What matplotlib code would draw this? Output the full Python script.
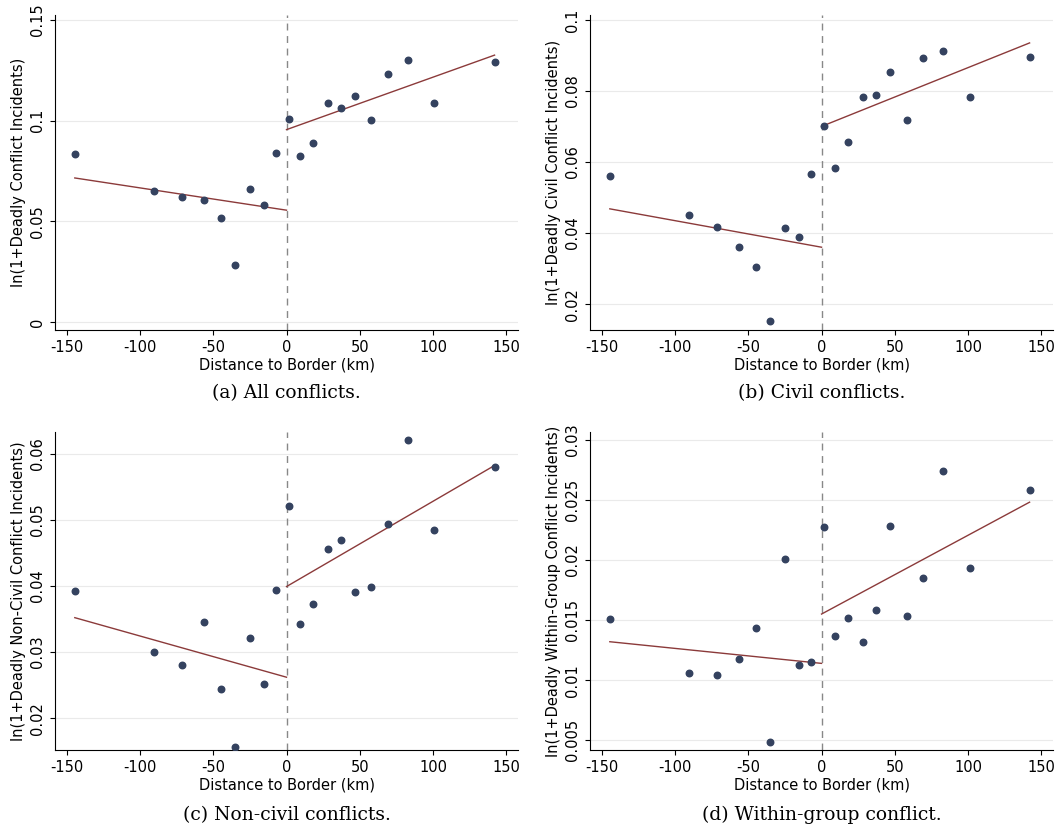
import matplotlib
matplotlib.use("Agg")
import matplotlib.pyplot as plt
from matplotlib.ticker import FuncFormatter

plt.rcParams['axes.unicode_minus'] = False

x = [-144.5, -90.7, -71.6, -56.6, -45, -35.4, -25.2, -15.7, -7.5, 1.4,
     9.5, 18.4, 28, 37.5, 47, 58, 69.5, 83, 101, 142]
y_all = [0.0835, 0.0650, 0.0621, 0.0606, 0.0516, 0.0283, 0.0661, 0.0582, 0.0840, 0.1008,
         0.0825, 0.0890, 0.1088, 0.1063, 0.1123, 0.1003, 0.1232, 0.1302, 0.1088, 0.1291]
y_civ = [0.0561, 0.0451, 0.0417, 0.0361, 0.0304, 0.0152, 0.0414, 0.0389, 0.0566, 0.0701,
         0.0583, 0.0656, 0.0783, 0.0789, 0.0854, 0.0718, 0.0893, 0.0913, 0.0783, 0.0896]
y_non = [0.0393, 0.0300, 0.0280, 0.0345, 0.0244, 0.0157, 0.0321, 0.0251, 0.0394, 0.0521,
         0.0343, 0.0373, 0.0456, 0.0469, 0.0391, 0.0398, 0.0494, 0.0620, 0.0484, 0.0580]
y_wg = [0.0151, 0.0106, 0.0104, 0.0118, 0.0143, 0.0049, 0.0201, 0.0113, 0.0115, 0.0227,
        0.0137, 0.0152, 0.0132, 0.0158, 0.0228, 0.0153, 0.0185, 0.0274, 0.0193, 0.0258]
# fit line endpoints: (left start, left end at 0, right start at 0, right end)
fit_all = [0.0715, 0.0555, 0.0955, 0.1325]
fit_civ = [0.0468, 0.0360, 0.0700, 0.0935]
fit_non = [0.0352, 0.0262, 0.0399, 0.0582]
fit_wg = [0.0132, 0.0114, 0.0155, 0.0248]

panels = [
    ("ln(1+Deadly Conflict Incidents)", y_all, fit_all, (-0.004, 0.1525), [0, 0.05, 0.1, 0.15], "(a) All conflicts."),
    ("ln(1+Deadly Civil Conflict Incidents)", y_civ, fit_civ, (0.0127, 0.1014), [0.02, 0.04, 0.06, 0.08, 0.1], "(b) Civil conflicts."),
    ("ln(1+Deadly Non-Civil Conflict Incidents)", y_non, fit_non, (0.0152, 0.0632), [0.02, 0.03, 0.04, 0.05, 0.06], "(c) Non-civil conflicts."),
    ("ln(1+Deadly Within-Group Conflict Incidents)", y_wg, fit_wg, (0.0042, 0.0306), [0.005, 0.01, 0.015, 0.02, 0.025, 0.03], "(d) Within-group conflict."),
]
xticks = [-150, -100, -50, 0, 50, 100, 150]

fig = plt.figure(figsize=(10.58, 8.25), dpi=100)
lefts = [0.052, 0.5577]
bottoms = [0.60, 0.0909]
heights = [0.382, 0.385]
capy = [0.5236, 0.012]
for i, (ylab, yv, fit, ylim, yt, cap) in enumerate(panels):
    r, c = divmod(i, 2)
    ax = fig.add_axes([lefts[c], bottoms[r], 0.4376, heights[r]])
    ax.set_xlim(-158, 158)
    ax.set_ylim(*ylim)
    ax.set_yticks(yt)
    ax.yaxis.set_major_formatter(FuncFormatter(lambda v, p: "0" if v == 0 else ("%g" % v)))
    ax.set_xticks(xticks)
    ax.grid(axis="y", color="#eaeaea", lw=0.8)
    ax.set_axisbelow(True)
    for s in ["top", "right"]:
        ax.spines[s].set_visible(False)
    ax.tick_params(axis="y", labelrotation=90, labelsize=10.5)
    ax.tick_params(axis="x", labelsize=10.5)
    for lab in ax.get_yticklabels():
        lab.set_va("center")
    ax.axvline(0, color="#888888", ls=(0, (5, 4)), lw=1)
    ax.plot([x[0], 0], fit[:2], color="#8b3a3a", lw=1)
    ax.plot([0, x[-1]], fit[2:], color="#8b3a3a", lw=1)
    ax.scatter(x, yv, s=22, color="#34425f", zorder=3)
    ax.set_xlabel("Distance to Border (km)", fontsize=10.5, labelpad=2)
    ax.set_ylabel(ylab, fontsize=10.5, labelpad=3)
    fig.text(lefts[c] + 0.4376 / 2, capy[r], cap, ha="center", va="center",
             fontsize=13.5, family="DejaVu Serif")

fig.savefig("out.png", dpi=100)
